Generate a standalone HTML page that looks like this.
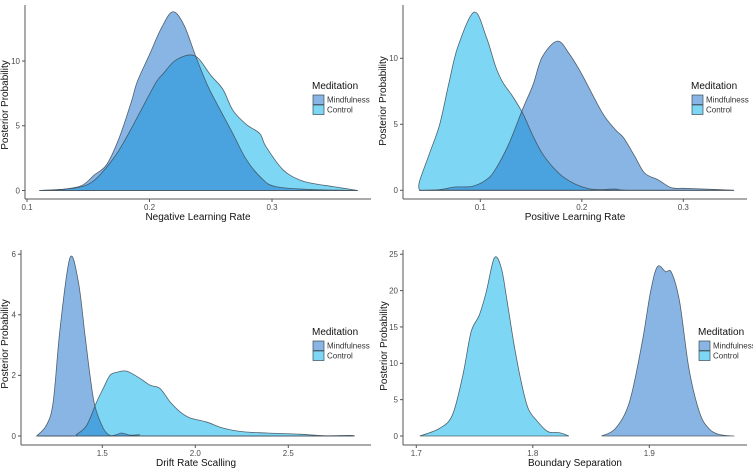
<!DOCTYPE html>
<html><head><meta charset="utf-8"><style>
html,body{margin:0;padding:0;background:#fff;}
svg{display:block;font-family:"Liberation Sans",Arial,sans-serif;}
</style></head><body>
<svg id="chart" width="753" height="470" viewBox="0 0 753 470" xmlns="http://www.w3.org/2000/svg"></svg>
<script>
// ---- data (x value, density) ----
const negMindX=[0.11,0.13,0.145,0.155,0.165,0.175,0.185,0.19,0.2,0.21,0.219,0.228,0.238,0.247,0.255,0.268,0.279,0.292,0.303,0.33,0.37];
const negMindY=[0,0.1,0.4,1.2,2,4,6.8,8.4,10.5,12.6,13.8,12.8,10.3,8.2,6.7,4.4,2.4,0.9,0.3,0.08,0];
const negCtrlX=[0.11,0.14,0.155,0.17,0.18,0.192,0.205,0.211,0.222,0.237,0.25,0.26,0.268,0.279,0.29,0.295,0.309,0.323,0.336,0.35,0.37];
const negCtrlY=[0,0.2,0.8,2.4,3.9,6,8.3,9.0,10.1,10.4,8.9,7.8,6.2,5.1,4.4,3.4,1.6,0.8,0.5,0.3,0];
const posMindX=[0.04,0.06,0.075,0.092,0.106,0.115,0.128,0.142,0.152,0.161,0.176,0.188,0.2,0.22,0.233,0.241,0.252,0.262,0.275,0.288,0.3,0.32,0.35];
const posMindY=[0,0.05,0.25,0.3,0.8,1.6,3.5,6.2,8.0,10.1,11.3,10.3,8.8,5.9,4.6,4.0,2.6,1.3,0.8,0.2,0.15,0.1,0];
const posCtrlX=[0.04,0.04,0.05,0.06,0.069,0.078,0.094,0.106,0.115,0.122,0.132,0.142,0.152,0.161,0.171,0.181,0.194,0.207,0.22,0.233,0.25,0.35];
const posCtrlY=[0,0.65,2.8,5,8.1,10.9,13.5,11.6,9.4,8.2,7.1,5.8,4.1,2.8,1.8,1.05,0.45,0.12,0.05,0.1,0,0];
const driftMindX=[1.147,1.2,1.236,1.273,1.326,1.371,1.407,1.434,1.46,1.505,1.541,1.58,1.604,1.65,1.7,1.75,2.85];
const driftMindY=[0,0.36,1.13,3.55,5.88,5.1,3.33,2.0,1.0,0.26,0.02,0.05,0.1,0.03,0.04,0,0];
const driftCtrlX=[1.15,1.35,1.362,1.416,1.47,1.505,1.541,1.577,1.631,1.703,1.756,1.81,1.864,1.918,1.971,2.061,2.15,2.258,2.384,2.563,2.687,2.83,2.858];
const driftCtrlY=[0,0,0.05,0.35,1.13,1.57,2.0,2.1,2.14,1.9,1.68,1.57,1.13,0.8,0.6,0.46,0.26,0.14,0.1,0.06,0.01,0.02,0];
const bndMindX=[1.859,1.871,1.883,1.894,1.901,1.907,1.914,1.919,1.926,1.934,1.943,1.951,1.96,1.973];
const bndMindY=[0,1.05,4.7,13,19.8,23.3,22.6,22.5,18.5,9.3,3.3,1.05,0.2,0];
const bndCtrlX=[1.703,1.72,1.731,1.74,1.747,1.754,1.76,1.767,1.773,1.778,1.784,1.79,1.796,1.804,1.813,1.823,1.831];
const bndCtrlY=[0,1.05,2.9,8.4,14.3,16.6,19.8,24.5,23.1,18.5,12.5,7.5,3.8,2.0,0.6,0.45,0];
const negXTicks=[0.1,0.2,0.3], posXTicks=[0.1,0.2,0.3], driftXTicks=[1.5,2.0,2.5], bndXTicks=[1.7,1.8,1.9];
const negYTicks=[0,5,10], posYTicks=[0,5,10], driftYTicks=[0,2,4,6], bndYTicks=[0,5,10,15,20,25];

// ---- layout (axis mappings) ----
const panels=[
 {id:'negative-learning-rate',title:'Negative Learning Rate',mx:negMindX,my:negMindY,cx:negCtrlX,cy:negCtrlY,xt:negXTicks,yt:negYTicks,
  x0:0.1,px0:27,ppx:1225,py0:190.5,ppy:12.95,axX:25,axY:199,right:371,top:5,legX:312,legY:89,ytx:8,ytY:105},
 {id:'positive-learning-rate',title:'Positive Learning Rate',mx:posMindX,my:posMindY,cx:posCtrlX,cy:posCtrlY,xt:posXTicks,yt:posYTicks,
  x0:0.1,px0:480.3,ppx:1015,py0:190.3,ppy:13.2,axX:403,axY:199,right:747,top:5,legX:691,legY:89,ytx:386,ytY:101},
 {id:'drift-rate-scaling',title:'Drift Rate Scalling',mx:driftMindX,my:driftMindY,cx:driftCtrlX,cy:driftCtrlY,xt:driftXTicks,yt:driftYTicks,
  x0:1.5,px0:102.3,ppx:186,py0:436,ppy:30.3,axX:21,axY:445,right:371,top:250,legX:312,legY:335,ytx:8,ytY:344},
 {id:'boundary-separation',title:'Boundary Separation',mx:bndMindX,my:bndMindY,cx:bndCtrlX,cy:bndCtrlY,xt:bndXTicks,yt:bndYTicks,
  x0:1.7,px0:416.3,ppx:1165,py0:436,ppy:7.27,axX:403,axY:445,right:747,top:250,legX:698,legY:335,ytx:387,ytY:346}
];
const NS='http://www.w3.org/2000/svg';
const svg=document.getElementById('chart');
function mk(tag,attrs,parent){const e=document.createElementNS(NS,tag);for(const k in attrs)e.setAttribute(k,attrs[k]);(parent||svg).appendChild(e);return e;}
const MIND='#88b5e3', CTRL='#7dd7f4', OVER='#4aa3df';

panels.forEach((p,i)=>{
  const sx=v=>p.px0+(v-p.x0)*p.ppx;
  const sy=v=>p.py0-v*p.ppy;
  const g=mk('g',{});
  
  
  function pathD(xs,ys){
    const pts=xs.map((x,k)=>[sx(x),sy(ys[k])]);
    let d='M'+pts[0][0].toFixed(2)+','+sy(0).toFixed(2)+' L'+pts[0][0].toFixed(2)+','+pts[0][1].toFixed(2);
    for(let k=0;k<pts.length-1;k++){
      const p0=pts[Math.max(0,k-1)],p1=pts[k],p2=pts[k+1],p3=pts[Math.min(pts.length-1,k+2)];
      const c1=[p1[0]+(p2[0]-p0[0])/6,p1[1]+(p2[1]-p0[1])/6];
      const c2=[p2[0]-(p3[0]-p1[0])/6,p2[1]-(p3[1]-p1[1])/6];
      d+=' C'+c1.map(v=>v.toFixed(2)).join(',')+' '+c2.map(v=>v.toFixed(2)).join(',')+' '+p2.map(v=>v.toFixed(2)).join(',');
    }
    d+=' L'+pts[pts.length-1][0].toFixed(2)+','+sy(0).toFixed(2)+' Z';
    return d;
  }
  const dm=pathD(p.mx,p.my), dc=pathD(p.cx,p.cy);
  const cp=mk('clipPath',{id:'clip'+i},g);
  mk('path',{d:dm},cp);
  const m=mk('path',{d:dm,fill:MIND,stroke:'none'},g);
  
  
  const c=mk('path',{d:dc,fill:CTRL,stroke:'none'},g);
  
  
  const o=mk('path',{d:dc,fill:OVER,stroke:'none','clip-path':'url(#clip'+i+')'},g);
  
  
  mk('path',{d:dm,fill:'none',stroke:'#3d4a55','stroke-width':0.8,'stroke-opacity':0.85},g);
  mk('path',{d:dc,fill:'none',stroke:'#3d4a55','stroke-width':0.8,'stroke-opacity':0.85},g);
  const ax=mk('line',{x1:p.axX,x2:p.right,y1:p.axY,y2:p.axY,stroke:'#555','stroke-width':1},g);
  
  
  const ay=mk('line',{x1:p.axX,x2:p.axX,y1:p.top,y2:p.axY,stroke:'#555','stroke-width':1},g);
  
  
  p.xt.forEach(v=>{
    const x=sx(v);
    mk('line',{x1:x,x2:x,y1:p.axY,y2:p.axY+3,stroke:'#555'},g);
    const t=mk('text',{x:x,y:p.axY+11,'font-size':8,fill:'#4d4d4d','text-anchor':'middle'},g);
    t.textContent=v.toFixed(1);
    
    
  });
  p.yt.forEach(v=>{
    const y=sy(v);
    mk('line',{x1:p.axX-3,x2:p.axX,y1:y,y2:y,stroke:'#555'},g);
    const t=mk('text',{x:p.axX-5,y:y+2.8,'font-size':8,fill:'#4d4d4d','text-anchor':'end'},g);
    t.textContent=String(v);
    
    
  });
  const xt=mk('text',{x:(p.axX+p.right)/2,y:p.axY+21,'font-size':10,fill:'#111','text-anchor':'middle'},g);
  xt.textContent=p.title;
  
  
  const yx=p.ytx, yy=p.ytY;
  const yt=mk('text',{x:yx,y:yy,'font-size':10,fill:'#111','text-anchor':'middle',transform:'rotate(-90 '+yx+' '+yy+')'},g);
  yt.textContent='Posterior Probability';
  
  
  const lg=mk('g',{},g);
  
  
  const lt=mk('text',{x:p.legX,y:p.legY,'font-size':10,fill:'#111'},lg);
  lt.textContent='Meditation';
  [['Mindfulness',MIND],['Control',CTRL]].forEach((e,k)=>{
    const y=p.legY+6+k*10;
    const eg=mk('g',{},lg);
    
    
    mk('rect',{x:p.legX+1,y:y,width:11,height:9.5,fill:e[1],stroke:'#3d4a55','stroke-width':0.7},eg);
    const tx=mk('text',{x:p.legX+15,y:y+7.5,'font-size':8,fill:'#333'},eg);
    tx.textContent=e[0];
  });
});
</script>
</body></html>
